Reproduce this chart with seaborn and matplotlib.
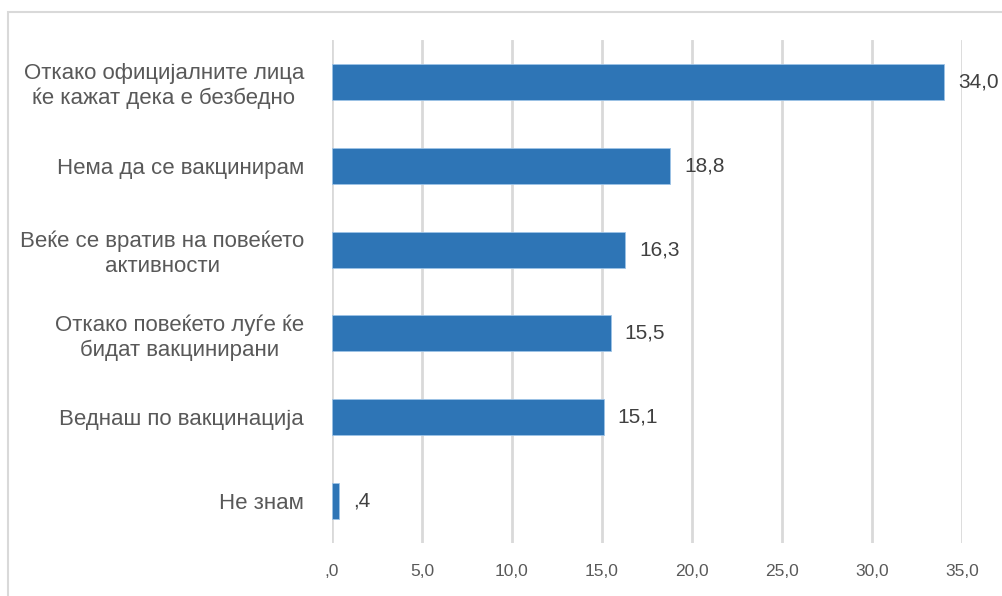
import matplotlib
matplotlib.use("Agg")
import matplotlib.pyplot as plt
from matplotlib.patches import Rectangle
from matplotlib.ticker import FuncFormatter
import seaborn as sns
import pandas as pd

# answers (top to bottom) and percentages
categories = [
    "Откако официјалните лица\nќе кажат дека е безбедно",
    "Нема да се вакцинирам",
    "Веќе се вратив на повеќето\nактивности",
    "Откако повеќето луѓе ќе\nбидат вакцинирани",
    "Веднаш по вакцинација",
    "Не знам",
]
values = [34.0, 18.8, 16.3, 15.5, 15.1, 0.4]
x_ticks = [0, 5, 10, 15, 20, 25, 30, 35]

df = pd.DataFrame({"answer": categories, "pct": values})

sns.set_style("white")
plt.rcParams["font.family"] = ["Liberation Sans", "DejaVu Sans"]


def comma_fmt(v):
    s = f"{v:.1f}".replace(".", ",")
    if s.startswith("0,"):
        s = s[1:]
    return s


fig = plt.figure(figsize=(10.02, 5.96), dpi=100)
ax = fig.add_axes([0.3313, 0.0889, 0.6287, 0.8440])

sns.barplot(data=df, x="pct", y="answer", orient="h", color="#2E75B6",
            saturation=1, width=0.43, edgecolor="#9dc3e6", linewidth=0.6, ax=ax)

ax.set_xlim(0, 35)
ax.set_ylim(5.5, -0.5)
ax.set_xticks(x_ticks)
ax.xaxis.set_major_formatter(FuncFormatter(lambda v, p: comma_fmt(v)))
ax.grid(axis="x", color="#d9d9d9", linewidth=2)
ax.set_axisbelow(True)
for s in ax.spines.values():
    s.set_visible(False)
ax.set_xlabel("")
ax.set_ylabel("")
ax.tick_params(axis="x", length=0, pad=15, labelsize=12.5, labelcolor="#595959")
ax.tick_params(axis="y", length=0, pad=20, labelsize=16, labelcolor="#595959")
for lbl in ax.get_yticklabels():
    lbl.set_multialignment("center")

ax.bar_label(ax.containers[0], labels=[comma_fmt(v) for v in values],
             padding=10, fontsize=15, color="#404040")

# outer chart border
fig.patches.append(Rectangle((8 / 1002, -0.05), 1.2, 1 - 12 / 596 + 0.05,
                             transform=fig.transFigure, fill=False,
                             edgecolor="#d9d9d9", linewidth=1.5))

fig.savefig("out.png", dpi=100)
